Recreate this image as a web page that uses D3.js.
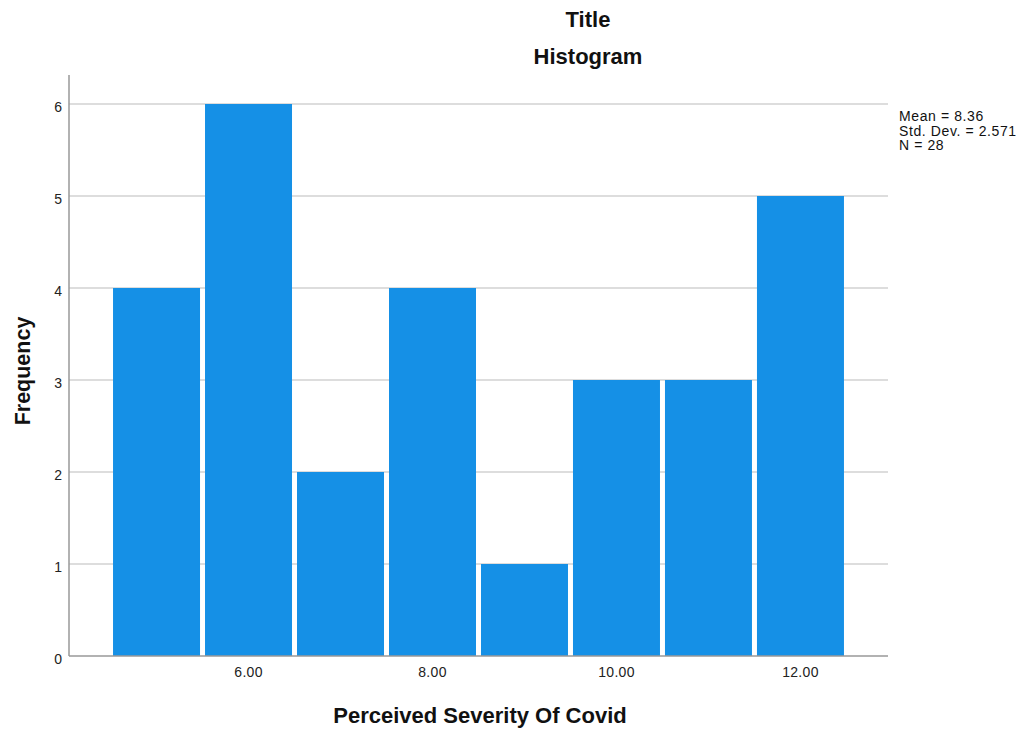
<!DOCTYPE html>
<html><head><meta charset="utf-8">
<script src="https://cdn.jsdelivr.net/npm/d3@7"></script>
<style>body{margin:0;background:#fff}svg{display:block}text{font-family:Arial,"Liberation Sans",sans-serif}</style>
</head><body>
<svg id="c" width="1021" height="733"></svg>
<script>
const binCenters = [5, 6, 7, 8, 9, 10, 11, 12];
const frequencies = [4, 6, 2, 4, 1, 3, 3, 5];
const xTicks = [6, 8, 10, 12];
const yTicks = [0, 1, 2, 3, 4, 5, 6];
const statsLines = ["Mean = 8.36", "Std. Dev. = 2.571", "N = 28"];

(function () {
const svg = d3.select("#c");
const mLeft = 69, mRight = 888, mTop = 75, mBottom = 656;
const x = d3.scaleLinear().domain([4.054, 12.957]).range([mLeft, mRight]);
const y = d3.scaleLinear().domain([0, 6]).range([mBottom, 104]);

// gridlines
svg.append("g").selectAll("line").data(yTicks.filter(d => d > 0)).join("line")
  .attr("x1", mLeft).attr("x2", mRight)
  .attr("y1", d => y(d)).attr("y2", d => y(d))
  .attr("stroke", "#d2d2d2").attr("stroke-width", 1.5);

// bars
svg.append("g").selectAll("rect").data(binCenters).join("rect")
  .attr("x", (d) => x(d - 0.5) + 3)
  .attr("width", d => x(d + 0.5) - x(d - 0.5) - 5)
  .attr("y", (d, i) => y(frequencies[i]))
  .attr("height", (d, i) => y(0) - y(frequencies[i]))
  .attr("fill", "#1590e6");

// axes lines
svg.append("line").attr("x1", mLeft).attr("x2", mLeft).attr("y1", mTop).attr("y2", mBottom)
  .attr("stroke", "#999").attr("stroke-width", 1.5);
svg.append("line").attr("x1", mLeft).attr("x2", mRight).attr("y1", mBottom).attr("y2", mBottom)
  .attr("stroke", "#999").attr("stroke-width", 1.5);

// y tick labels
const yAxis = d3.axisLeft(y).tickValues(yTicks).tickFormat(d3.format("d")).tickSize(0).tickPadding(7);
const gy = svg.append("g").attr("transform", `translate(${mLeft},0)`).call(yAxis);
gy.select(".domain").remove();
gy.selectAll("text").attr("font-size", 14).attr("dy", "0.55em").attr("fill", "#222")
  .attr("font-family", "Arial,'Liberation Sans',sans-serif");

// x tick labels
const xAxis = d3.axisBottom(x).tickValues(xTicks).tickFormat(d3.format(".2f")).tickSize(0).tickPadding(11);
const gx = svg.append("g").attr("transform", `translate(0,${mBottom})`).call(xAxis);
gx.select(".domain").remove();
gx.selectAll("text").attr("font-size", 14).attr("fill", "#222").attr("letter-spacing", "0.3px")
  .attr("font-family", "Arial,'Liberation Sans',sans-serif");

// titles
svg.append("text").attr("x", 588).attr("y", 27).attr("text-anchor", "middle")
  .attr("font-size", 22).attr("font-weight", "bold").attr("fill", "#111").text("Title");
svg.append("text").attr("x", 588).attr("y", 64).attr("text-anchor", "middle")
  .attr("font-size", 22).attr("font-weight", "bold").attr("fill", "#111").text("Histogram");

// axis titles
svg.append("text").attr("x", 480).attr("y", 723).attr("text-anchor", "middle")
  .attr("font-size", 22).attr("font-weight", "bold").attr("fill", "#111").text("Perceived Severity Of Covid");
svg.append("text").attr("transform", "translate(30,371) rotate(-90)").attr("text-anchor", "middle")
  .attr("font-size", 21.5).attr("font-weight", "bold").attr("fill", "#111").text("Frequency");

// stats legend
svg.append("g").selectAll("text").data(statsLines).join("text")
  .attr("x", 899).attr("y", (d, i) => 121 + i * 14.7)
  .attr("font-size", 14).attr("letter-spacing", "0.6px").attr("fill", "#111").text(d => d);
})();
</script>
</body></html>
